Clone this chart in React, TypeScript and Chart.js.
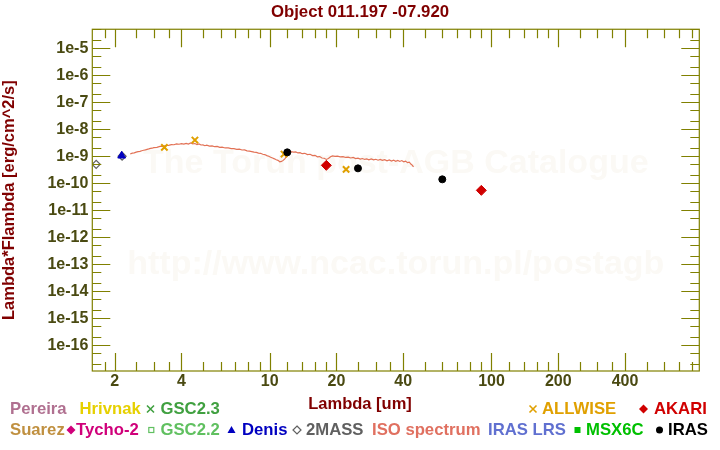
import React, { useEffect, useRef } from 'react';
import { Chart, registerables } from 'chart.js';

Chart.register(...registerables);

// ---------- data ----------
const isoLambda = [
  2.35, 2.4, 2.45, 2.5, 2.55, 2.6, 2.65, 2.7, 2.75, 2.8, 2.85, 2.9, 2.95, 3.0, 3.1, 3.2, 3.3, 3.4, 3.5, 3.6,
  3.7, 3.8, 3.9, 4.0, 4.1, 4.2, 4.3, 4.4, 4.5, 4.6, 4.7, 4.8, 4.9, 5.0, 5.1, 5.2, 5.35, 5.5, 5.65, 5.8, 5.95,
  6.1, 6.3, 6.5, 6.7, 6.9, 7.1, 7.3, 7.5, 7.7, 7.9, 8.1, 8.3, 8.5, 8.7, 8.9, 9.1, 9.3, 9.5, 9.7, 9.9, 10.1,
  10.3, 10.5, 10.7, 10.9, 11.1, 11.3, 11.5, 11.7, 11.9, 12.1, 12.3, 12.5, 12.8, 13.1, 13.4, 13.7, 14.0, 14.4,
  14.8, 15.2, 15.6, 16.0, 16.4, 16.8, 17.2, 17.6, 18.0, 18.4, 18.8, 19.2, 19.7, 20.2, 20.8, 21.4, 22.0, 22.6,
  23.2, 23.8, 24.4, 25.0, 25.6, 26.2, 26.8, 27.4, 28.0, 28.7, 29.4, 30.1, 30.8, 31.5, 32.2, 33.0, 33.8, 34.6,
  35.4, 36.2, 37.0, 37.8, 38.6, 39.4, 40.2, 41.0, 41.8, 42.6, 43.4, 44.0, 44.5,
];
const isoFlux = [
  1.2e-9, 1.3e-9, 1.33e-9, 1.42e-9, 1.48e-9, 1.52e-9, 1.6e-9, 1.66e-9, 1.72e-9, 1.8e-9, 1.86e-9, 1.95e-9,
  1.98e-9, 2.08e-9, 2.12e-9, 2.3e-9, 2.32e-9, 2.5e-9, 2.52e-9, 2.7e-9, 2.66e-9, 2.85e-9, 2.78e-9, 2.92e-9,
  2.8e-9, 3.0e-9, 2.82e-9, 3.1e-9, 2.85e-9, 2.95e-9, 2.7e-9, 2.85e-9, 2.6e-9, 2.62e-9, 2.45e-9, 2.55e-9,
  2.38e-9, 2.42e-9, 2.25e-9, 2.3e-9, 2.12e-9, 2.18e-9, 2.02e-9, 2.05e-9, 1.9e-9, 1.92e-9, 1.8e-9, 1.82e-9,
  1.7e-9, 1.72e-9, 1.58e-9, 1.55e-9, 1.48e-9, 1.42e-9, 1.38e-9, 1.3e-9, 1.28e-9, 1.18e-9, 1.15e-9, 1.05e-9,
  1.0e-9, 9.2e-10, 8.6e-10, 8.0e-10, 7.4e-10, 7.0e-10, 6.2e-10, 6.4e-10, 7.0e-10, 8.0e-10, 9.8e-10, 1.15e-9,
  1.35e-9, 1.48e-9, 1.42e-9, 1.45e-9, 1.32e-9, 1.36e-9, 1.24e-9, 1.28e-9, 1.15e-9, 1.18e-9, 1.05e-9, 1.08e-9,
  9.5e-10, 9.7e-10, 8.6e-10, 8.4e-10, 7.6e-10, 8.2e-10, 9.5e-10, 1.02e-9, 9.8e-10, 1.0e-9, 9.4e-10, 9.7e-10,
  9.0e-10, 9.3e-10, 8.6e-10, 9.0e-10, 8.2e-10, 8.5e-10, 7.8e-10, 8.2e-10, 7.6e-10, 8.0e-10, 7.4e-10, 7.9e-10,
  7.3e-10, 7.7e-10, 7.1e-10, 7.6e-10, 7.0e-10, 7.4e-10, 6.8e-10, 7.3e-10, 6.6e-10, 7.1e-10, 6.5e-10, 7.0e-10,
  6.4e-10, 6.9e-10, 6.2e-10, 6.6e-10, 5.8e-10, 6.0e-10, 5.0e-10, 4.6e-10, 4.0e-10,
];

const allwiseLambda = [3.35, 4.6, 11.6, 22.1];
const allwiseFlux = [2.13e-9, 3.98e-9, 1.2e-9, 3.26e-10];

const irasLambda = [12, 25, 60];
const irasFlux = [1.39e-9, 3.55e-10, 1.39e-10];

const akariLambda = [18, 90];
const akariFlux = [4.59e-10, 5.43e-11];

const denisLambda = [2.15];
const denisFlux = [1.04e-9];

const twomassLambda = [1.65, 2.16];
const twomassFlux = [5.0e-10, 1.0e-9];

// ---------- axes ----------
const X_MIN = 1.585;
const X_MAX = 865;
const Y_MIN = 1.1e-17;
const Y_MAX = 5.06e-5;

const xMajorTicks = [2, 4, 10, 20, 40, 100, 200, 400];
const xMinorTicks = [1.8, 2.5, 3, 3.5, 5, 6, 7, 8, 9, 12, 14, 16, 18, 25, 30, 35, 50, 60, 70, 80, 90,
  120, 140, 160, 180, 250, 300, 350, 500, 600, 700, 800];
const yMajorExponents = [-16, -15, -14, -13, -12, -11, -10, -9, -8, -7, -6, -5];
const yMinorMantissas = [2, 5];

const TITLE = 'Object 011.197 -07.920';
const X_TITLE = 'Lambda [um]';
const Y_TITLE = 'Lambda*Flambda [erg/cm^2/s]';
const WATERMARK1 = 'The Torun post-AGB Catalogue';
const WATERMARK2 = 'http://www.ncac.torun.pl/postagb';

type LegendItem = { text: string; color: string; x: number; row: number; symbol?: string; sx?: number };
const legendItems: LegendItem[] = [
  { text: 'Pereira', color: '#b07090', x: 10, row: 0 },
  { text: 'Hrivnak', color: '#e6d000', x: 79.5, row: 0 },
  { text: 'GSC2.3', color: '#40a040', x: 160.5, row: 0, symbol: 'cross', sx: 150.5 },
  { text: 'ALLWISE', color: '#e0a000', x: 542, row: 0, symbol: 'cross', sx: 533 },
  { text: 'AKARI', color: '#d00000', x: 654, row: 0, symbol: 'diamond', sx: 643.5 },
  { text: 'Suarez', color: '#c09040', x: 10, row: 1 },
  { text: 'Tycho-2', color: '#d0007a', x: 76, row: 1, symbol: 'diamond', sx: 71 },
  { text: 'GSC2.2', color: '#60c060', x: 160.5, row: 1, symbol: 'openSquare', sx: 151.3 },
  { text: 'Denis', color: '#0000c0', x: 242, row: 1, symbol: 'triangle', sx: 231.5 },
  { text: '2MASS', color: '#606060', x: 306, row: 1, symbol: 'openDiamond', sx: 297 },
  { text: 'ISO spectrum', color: '#e07060', x: 372, row: 1 },
  { text: 'IRAS LRS', color: '#6070d0', x: 488, row: 1 },
  { text: 'MSX6C', color: '#00c000', x: 586, row: 1, symbol: 'square', sx: 577.5 },
  { text: 'IRAS', color: '#000000', x: 668, row: 1, symbol: 'circle', sx: 659.5 },
];

const FONT = '"Liberation Sans", Arial, sans-serif';
const AXIS_COLOR = '#808000';
const TICK_LABEL_COLOR = '#4a4a12';
const TITLE_COLOR = '#800000';

function pts(xs: number[], ys: number[]) {
  return xs.map((x, i) => ({ x, y: ys[i] }));
}

function drawSymbol(ctx: CanvasRenderingContext2D, kind: string, x: number, y: number, color: string) {
  ctx.save();
  ctx.strokeStyle = color;
  ctx.fillStyle = color;
  ctx.lineWidth = 1.6;
  ctx.beginPath();
  switch (kind) {
    case 'cross': {
      const s = 3.5;
      ctx.moveTo(x - s, y - s); ctx.lineTo(x + s, y + s);
      ctx.moveTo(x + s, y - s); ctx.lineTo(x - s, y + s);
      ctx.stroke();
      break;
    }
    case 'diamond': {
      const s = 4.5;
      ctx.moveTo(x, y - s); ctx.lineTo(x + s, y); ctx.lineTo(x, y + s); ctx.lineTo(x - s, y); ctx.closePath();
      ctx.fill();
      break;
    }
    case 'openDiamond': {
      const s = 4;
      ctx.lineWidth = 1.2;
      ctx.moveTo(x, y - s); ctx.lineTo(x + s, y); ctx.lineTo(x, y + s); ctx.lineTo(x - s, y); ctx.closePath();
      ctx.stroke();
      break;
    }
    case 'openSquare': {
      ctx.lineWidth = 1.2;
      ctx.strokeRect(x - 2.5, y - 2.5, 5, 5);
      break;
    }
    case 'triangle': {
      ctx.moveTo(x, y - 4); ctx.lineTo(x + 4, y + 3); ctx.lineTo(x - 4, y + 3); ctx.closePath();
      ctx.fill();
      break;
    }
    case 'square': {
      ctx.fillRect(x - 3, y - 3, 6, 6);
      break;
    }
    case 'circle': {
      ctx.arc(x, y, 3.5, 0, Math.PI * 2);
      ctx.fill();
      break;
    }
  }
  ctx.restore();
}

const decorPlugin = {
  id: 'decor',
  beforeDatasetsDraw(chart: any) {
    const { ctx, chartArea } = chart;
    const cx = (chartArea.left + chartArea.right) / 2;
    ctx.save();
    ctx.fillStyle = '#fbf9f5';
    ctx.font = `bold 34px ${FONT}`;
    ctx.textAlign = 'center';
    ctx.textBaseline = 'alphabetic';
    ctx.fillText(WATERMARK1, cx, 173);
    ctx.fillText(WATERMARK2, cx, 274);
    ctx.restore();
  },
  afterDraw(chart: any) {
    const { ctx, chartArea } = chart;
    const { left, right, top, bottom } = chartArea;
    const xs = chart.scales.x;
    const ys = chart.scales.y;
    ctx.save();
    ctx.strokeStyle = AXIS_COLOR;
    ctx.lineWidth = 1.2;
    ctx.strokeRect(left, top, right - left, bottom - top);
    ctx.beginPath();
    const major = 18;
    const minor = 9;
    const xTick = (v: number, len: number) => {
      const p = Math.round(xs.getPixelForValue(v)) + 0.5;
      if (p < left || p > right) return;
      ctx.moveTo(p, bottom); ctx.lineTo(p, bottom - len);
      ctx.moveTo(p, top); ctx.lineTo(p, top + len);
    };
    const yTick = (v: number, len: number) => {
      const p = Math.round(ys.getPixelForValue(v)) + 0.5;
      if (p < top || p > bottom) return;
      ctx.moveTo(left, p); ctx.lineTo(left + len, p);
      ctx.moveTo(right, p); ctx.lineTo(right - len, p);
    };
    xMajorTicks.forEach((v) => xTick(v, major));
    xMinorTicks.forEach((v) => xTick(v, minor));
    yMajorExponents.forEach((e) => {
      yTick(Math.pow(10, e), major);
    });
    [-17, ...yMajorExponents].forEach((e) => {
      yMinorMantissas.forEach((m) => {
        const v = m * Math.pow(10, e);
        if (v > Y_MIN && v < Y_MAX) yTick(v, minor);
      });
    });
    ctx.stroke();

    // x-axis title (centred on canvas as in the reference)
    ctx.fillStyle = TITLE_COLOR;
    ctx.font = `bold 16.5px ${FONT}`;
    ctx.textAlign = 'center';
    ctx.textBaseline = 'middle';
    ctx.fillText(X_TITLE, chart.width / 2, 404);

    // legend
    ctx.font = `bold 16.7px ${FONT}`;
    ctx.textAlign = 'left';
    legendItems.forEach((it) => {
      const y = it.row === 0 ? 409 : 430;
      ctx.fillStyle = it.color;
      ctx.fillText(it.text, it.x, y);
      if (it.symbol && it.sx !== undefined) drawSymbol(ctx, it.symbol, it.sx, y, it.color);
    });
    ctx.restore();
  },
};

export default function App() {
  const ref = useRef<HTMLCanvasElement | null>(null);

  useEffect(() => {
    document.body.style.margin = '0';
    if (!ref.current) return;
    Chart.defaults.font.family = FONT;
    const chart = new Chart(ref.current, {
      type: 'scatter',
      data: {
        datasets: [
          {
            label: '2MASS',
            data: pts(twomassLambda, twomassFlux),
            pointStyle: 'rectRot',
            pointRadius: 4,
            borderColor: '#606060',
            backgroundColor: 'rgba(255,255,255,0)',
            borderWidth: 1.2,
            order: 5,
          },
          {
            label: 'Denis',
            data: pts(denisLambda, denisFlux),
            pointStyle: 'triangle',
            pointRadius: 4.5,
            borderColor: '#0000c0',
            backgroundColor: '#0000c0',
            borderWidth: 1,
            order: 4,
          },
          {
            label: 'ALLWISE',
            data: pts(allwiseLambda, allwiseFlux),
            pointStyle: 'crossRot',
            pointRadius: 4.5,
            borderColor: '#e0a000',
            borderWidth: 2,
            order: 3,
          },
          {
            label: 'AKARI',
            data: pts(akariLambda, akariFlux),
            pointStyle: 'rectRot',
            pointRadius: 5,
            borderColor: '#d00000',
            backgroundColor: '#d00000',
            borderWidth: 1,
            order: 2,
          },
          {
            label: 'IRAS',
            data: pts(irasLambda, irasFlux),
            pointStyle: 'circle',
            pointRadius: 3.5,
            borderColor: '#000000',
            backgroundColor: '#000000',
            borderWidth: 1,
            order: 1,
          },
          {
            label: 'ISO spectrum',
            data: pts(isoLambda, isoFlux),
            showLine: true,
            pointRadius: 0,
            borderColor: '#e27256',
            borderWidth: 1.2,
            tension: 0,
            order: 10,
          } as any,
        ],
      },
      options: {
        responsive: false,
        animation: false,
        layout: { padding: 0 },
        plugins: {
          legend: { display: false },
          tooltip: { enabled: false },
          title: {
            display: true,
            text: TITLE,
            color: TITLE_COLOR,
            font: { size: 16.8, weight: 'bold', family: FONT },
            padding: { top: 1.8, bottom: 7.3 },
          },
        },
        scales: {
          x: {
            type: 'logarithmic',
            position: 'bottom',
            min: X_MIN,
            max: X_MAX,
            afterBuildTicks: (s: any) => {
              s.ticks = xMajorTicks.map((v) => ({ value: v }));
            },
            afterFit: (s: any) => {
              s.height = 79;
            },
            ticks: {
              autoSkip: false,
              maxRotation: 0,
              minRotation: 0,
              padding: 1,
              color: TICK_LABEL_COLOR,
              font: { size: 16, weight: 'bold', family: FONT },
              callback: (v: any) => String(v),
            },
            grid: { display: false, drawTicks: false },
            border: { display: false },
          },
          y: {
            type: 'logarithmic',
            position: 'left',
            min: Y_MIN,
            max: Y_MAX,
            afterBuildTicks: (s: any) => {
              s.ticks = yMajorExponents.map((e) => ({ value: Math.pow(10, e) }));
            },
            afterFit: (s: any) => {
              s.width = 92.3;
            },
            ticks: {
              autoSkip: false,
              padding: 4,
              color: TICK_LABEL_COLOR,
              font: { size: 16, weight: 'bold', family: FONT },
              callback: (v: any) => '1e' + Math.round(Math.log10(Number(v))),
            },
            title: {
              display: true,
              text: Y_TITLE,
              color: TITLE_COLOR,
              font: { size: 16.5, weight: 'bold', family: FONT },
              padding: { top: 0, bottom: 0 },
            },
            grid: { display: false, drawTicks: false },
            border: { display: false },
          },
          yRight: {
            type: 'linear',
            position: 'right',
            display: true,
            ticks: { display: false },
            grid: { display: false, drawTicks: false },
            border: { display: false },
            afterFit: (s: any) => {
              s.width = 20.7;
            },
          },
        },
      } as any,
      plugins: [decorPlugin],
    });
    return () => chart.destroy();
  }, []);

  return (
    <div style={{ width: 720, height: 450, position: 'relative', background: '#ffffff' }}>
      <canvas ref={ref} width={720} height={450} />
    </div>
  );
}
